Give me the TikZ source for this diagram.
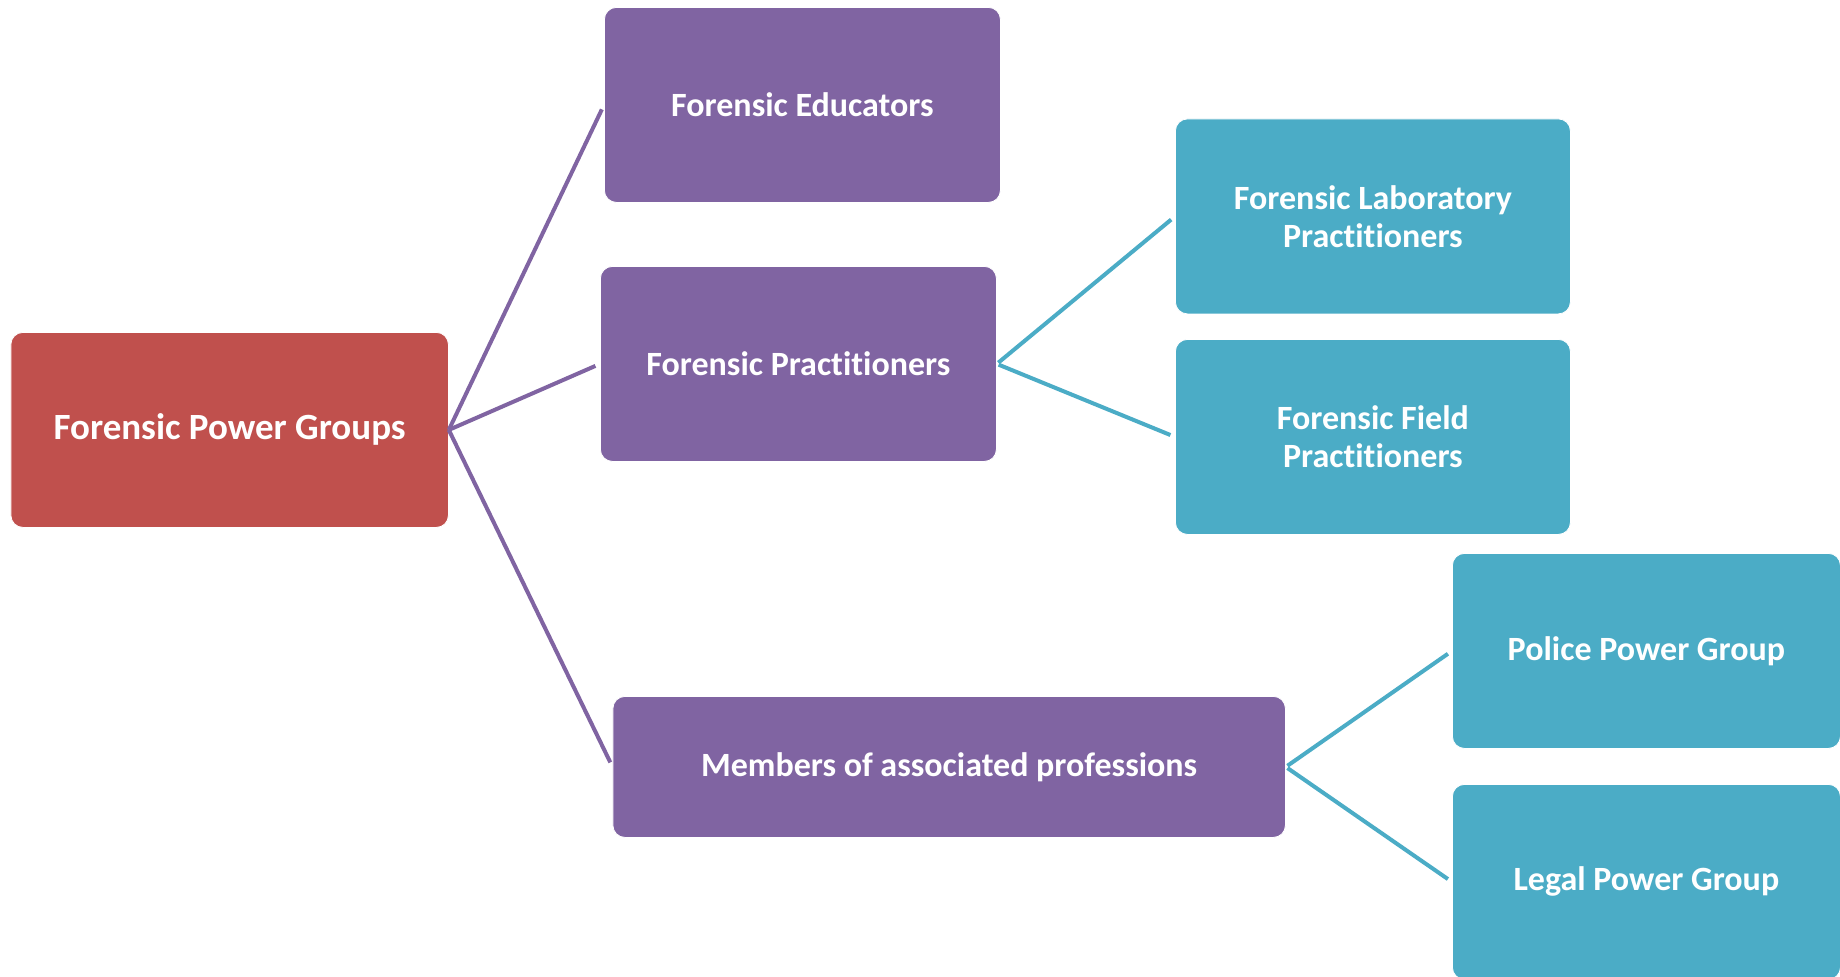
\documentclass[tikz,border=0pt]{standalone}
\usepackage{fontspec}
\setmainfont{Carlito}[Ligatures={NoCommon,NoRequired,NoContextual},Contextuals=NoAlternate]
\definecolor{cred}{HTML}{C0504D}
\definecolor{cpurple}{HTML}{8064A2}
\definecolor{cteal}{HTML}{4BACC6}
\newcommand{\myprac}{Pract\kern0pt it\kern0pt ioners}
\begin{document}
\begin{tikzpicture}[x=0.5pt,y=-0.5pt,
  box/.style={rounded corners=6pt, inner sep=0pt, text=white, draw=white, line width=0.4pt,
    font=\bfseries\fontsize{17}{19}\selectfont, align=center, anchor=north west},
  rootbox/.style={box, fill=cred, font=\bfseries\fontsize{18.5}{21}\selectfont,
    minimum width=218.75pt, minimum height=97.5pt},
  midbox/.style={box, fill=cpurple, minimum width=198pt, minimum height=97.5pt},
  leafbox/.style={box, fill=cteal, minimum width=197.5pt, minimum height=97.5pt},
  plink/.style={draw=cpurple, line width=2pt, shorten >=2.5pt},
  tlink/.style={draw=cteal, line width=2pt, shorten >=2.5pt, shorten <=1pt}
]
\useasboundingbox (0,0) rectangle (1840,976);
\fill[white] (0,0) rectangle (1840,976);

\node[rootbox] (root) at (10.5,332) {Forensic Power Groups};
\node[midbox] (edu) at (604,7) {Forensic Educators};
\node[midbox] (prac) at (600,266) {Forensic \myprac};
\node[midbox, minimum width=336.25pt, minimum height=70.5pt] (mem) at (612.5,696) {Members of associated professions};
\node[leafbox] (lab) at (1175,118.5) {Forensic Laboratory\\\myprac};
\node[leafbox] (field) at (1175,339) {Forensic Field\\\myprac};
\node[leafbox, minimum width=194pt] (police) at (1452,553) {Police Power Group};
\node[leafbox, minimum width=194pt] (legal) at (1452,784) {Legal Power Group};

\draw[plink] (root.east) -- (edu.west);
\draw[plink] (root.east) -- (prac.west);
\draw[plink] (root.east) -- (mem.west);
\draw[tlink] (prac.east) -- (lab.west);
\draw[tlink] (prac.east) -- (field.west);
\draw[tlink] (mem.east) -- (police.west);
\draw[tlink] (mem.east) -- (legal.west);
\end{tikzpicture}
\end{document}
